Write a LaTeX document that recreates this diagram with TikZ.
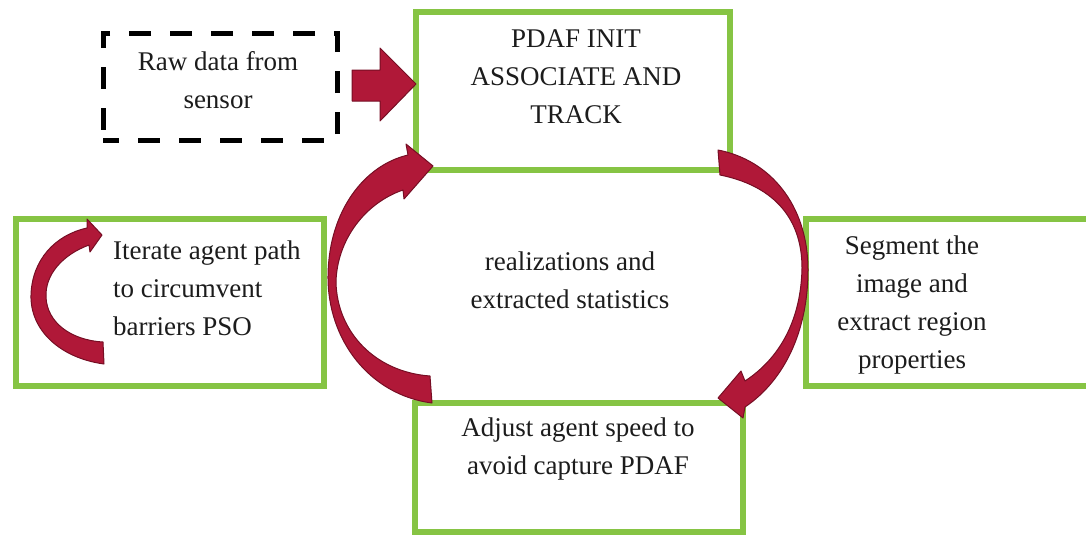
\documentclass[tikz,border=0pt]{standalone}
\usepackage{fontspec}
\setmainfont{Liberation Serif}
\newfontfamily\boxfont{Liberation Serif}
\definecolor{boxgreen}{RGB}{134,196,68}
\definecolor{ribbon}{RGB}{176,24,56}
\definecolor{ribbonedge}{RGB}{118,14,36}
\definecolor{ink}{RGB}{28,28,28}
\tikzset{
  gbox/.style={draw=boxgreen, line width=6pt, rectangle, inner sep=0pt},
  dbox/.style={draw=black, line width=5pt, dash pattern=on 22pt off 19pt, dash phase=6pt, rectangle, inner sep=0pt},
  txt/.style={text=ink, font=\boxfont\fontsize{27}{38}\selectfont, inner sep=0pt},
  band/.style={fill=ribbon, draw=ribbonedge, line width=1pt, line join=round},
}
\begin{document}
\begin{tikzpicture}[x=1pt, y=-1pt]
\useasboundingbox (0,0) rectangle (1086,536);
\clip (0,0) rectangle (1086,536);

% boxes
\node[dbox, minimum width=234pt, minimum height=107pt] (raw) at (220,86.5) {};
\node[gbox, minimum width=314pt, minimum height=158pt] (pdaf) at (573,91) {};
\node[gbox, minimum width=308pt, minimum height=167pt] (iter) at (170,302.5) {};
\node[gbox, minimum width=290pt, minimum height=167pt] (seg) at (951,302.5) {};
\node[gbox, minimum width=328pt, minimum height=129pt] (adj) at (579,467.5) {};

% texts
\node[txt, align=center] (rawt) at (218,80) {Raw data from\\sensor};
\node[txt, align=center] (pdaft) at (576,77) {PDAF INIT\\ASSOCIATE AND\\TRACK};
\node[txt, align=left, anchor=west] (itert) at (113,288) {Iterate agent path\\to circumvent\\barriers PSO};
\node[txt, align=center] (segt) at (912,305) {Segment the\\image and\\extract region\\properties};
\node[txt, align=center] (adjt) at (578,449) {Adjust agent speed to\\avoid capture PDAF};
\node[txt, align=center] (midt) at (570,280) {realizations and\\extracted statistics};

% straight block arrow into the tracking box
\fill[band] (352,70) -- (380,70) -- (380,48) -- (416,84) -- (380,121) -- (380,101) -- (352,101) -- cycle;

% right ribbon: tracking box down to the speed box
\fill[band] (718,150) .. controls (770,160) and (808,205) .. (808,270)
  .. controls (808,330) and (785,380) .. (745,407)
  -- (743,418) -- (718,398) -- (741,371) -- (745,381)
  .. controls (780,358) and (801,320) .. (802,268)
  .. controls (802,215) and (770,185) .. (720,175) -- cycle;

% left ribbon: speed box back up to the tracking box
\fill[band] (432,403) .. controls (370,395) and (327,340) .. (328,275)
  .. controls (329,210) and (365,165) .. (408,155)
  -- (406,144) -- (433,166) -- (404,199) -- (403,190)
  .. controls (365,203) and (337,240) .. (336,282)
  .. controls (337,332) and (375,372) .. (430,376) -- cycle;

% small loop inside the path box
\fill[band] (104,364) .. controls (60,358) and (30,330) .. (31,295)
  .. controls (32,260) and (55,235) .. (87,228)
  -- (87,219) -- (102,235) -- (90,252) -- (89,245)
  .. controls (62,255) and (45,275) .. (46,297)
  .. controls (47,322) and (70,340) .. (103,342) -- cycle;
\end{tikzpicture}
\end{document}
